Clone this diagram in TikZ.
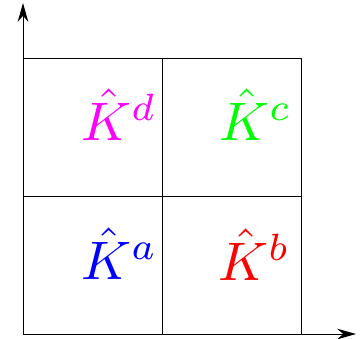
\documentclass[tikz,border=0pt]{standalone}
\usetikzlibrary{arrows.meta}
\definecolor{mag}{RGB}{255,0,255}
\definecolor{grn}{RGB}{0,255,0}
\definecolor{blu}{RGB}{0,0,255}
\definecolor{rd}{RGB}{255,0,0}
\newcommand{\biglab}[1]{\scalebox{2.3}{$#1$}}
\begin{document}
\begin{tikzpicture}[x=0.4237pt,y=-0.4237pt,
  gridline/.style={line width=0.4pt},
  axis/.style={line width=0.4pt,-{Stealth[length=8pt,width=4.5pt]}},
  lab/.style={anchor=base west,inner sep=0pt}]
\useasboundingbox (0,0) rectangle (364,338);
\coordinate (o) at (23,334);
\coordinate (ytip) at (23,3);
\coordinate (xtip) at (356,334);
\draw[axis] (o) -- (ytip);
\draw[axis] (o) -- (xtip);
\draw[gridline] (23,58) rectangle (301,334);
\draw[gridline] (162,58) -- (162,334);
\draw[gridline] (23,196) -- (301,196);
\node[lab,text=mag] (kd) at (81,140) {\biglab{\hat{K}^d}};
\node[lab,text=grn] (kc) at (219,140) {\biglab{\hat{K}^c}};
\node[lab,text=blu] (ka) at (81,279) {\biglab{\hat{K}^a}};
\node[lab,text=rd] (kb) at (218,280) {\biglab{\hat{K}^b}};
\end{tikzpicture}
\end{document}
